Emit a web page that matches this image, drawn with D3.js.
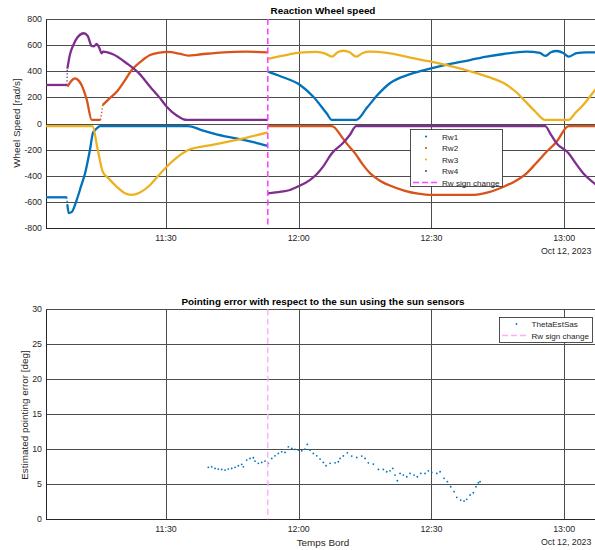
<!DOCTYPE html>
<html>
<head>
<meta charset="utf-8">
<script src="https://cdn.jsdelivr.net/npm/d3@7"></script>
<style>
  body { margin: 0; background: #fff; }
  svg { display: block; font-family: "Liberation Sans", Arial, Helvetica, sans-serif; }
</style>
</head>
<body>
<svg id="chart" width="595" height="550"></svg>
<script>
// ---------- data (time in minutes after 11:00 on Oct 12, 2023) ----------
const timeWindow = [2.87, 128.1];
const signChangeMin = [53];
const xTickLabels = ["11:30", "12:00", "12:30", "13:00"];
const speedTicks = [800, 600, 400, 200, 0, -200, -400, -600, -800];
const errorTicks = [30, 25, 20, 15, 10, 5, 0];
const wheelNames = ["Rw1", "Rw2", "Rw3", "Rw4"];
const wheelColors = ["#0072BD", "#D95319", "#EDB120", "#7E2F8E"];

// each wheel: list of continuous segments of [minute, rad/s]
const rw1 = [
  [[2.87,-565],[7.6,-565]],
  [[7.7,-620],[8.0,-685],[8.6,-680],[9.8,-586],[10.8,-480],[11.7,-381],[12.8,-203],[13.5,-70],[14.0,-50],[15.1,-20],
   [35,-20],[38,-50],[41,-80],[44,-103],[47,-122],[50,-145],[53,-172]],
  [[53,397],[56,360],[60.3,295],[63.3,205],[66.3,78],[67.5,27],[73,27],[75.4,120],[77.8,218],[80.6,308],
   [85.2,378],[89.9,422],[94,455],[98.7,486],[102.5,512],[106.3,532],[111.5,550],[114.5,540],[115.7,517],[117,545],
   [118.3,555],[119.8,540],[121,512],[122.8,538],[125,545],[128.1,543]]
];
const rw2 = [
  [[7.7,282],[8.5,322],[9.4,346],[10.2,330],[10.9,295],[12.1,180],[13.2,27],[15.2,27]],
  [[15.7,142],[17,185],[18.85,243],[20.5,320],[22.25,410],[24.5,480],[26.4,524],[28.6,542],[30.2,548],[33,535],
   [35,520],[38,530],[43,545],[48,550],[53,545]],
  [[53,-20],[67.5,-20],[69.7,-101],[71,-160],[72.7,-227],[74.5,-315],[76.1,-380],[78,-430],[80.6,-475],[84,-515],
   [87,-537],[89.9,-547],[98.7,-547],[103,-525],[106.3,-484],[109,-440],[111.5,-381],[113.5,-310],[115.7,-228],
   [118.3,-139],[121,-20],[128.1,-20]]
];
const rw3 = [
  [[2.87,-20],[13.4,-20],[14.5,-190],[15.7,-369],[17,-420],[18.85,-484],[20.5,-530],[22.25,-547],[24,-530],
   [26.4,-471],[28,-410],[30.15,-331],[32.5,-260],[35,-203],[41,-160],[47,-118],[53,-68]],
  [[53,494],[56.5,520],[60.3,542],[64,548],[66,535],[67.5,512],[68.8,545],[70.1,557],[71.5,545],[73,512],[74.5,540],
   [76.1,550],[80,540],[85.2,505],[89.9,473],[98.7,400],[103,355],[106.3,310],[109,245],[111.5,160],[113.5,90],
   [115.7,27],[121,27],[122.5,80],[124.3,142],[127,257],[128.1,300]]
];
const rw4 = [
  [[2.87,295],[7.6,295]],
  [[7.7,420],[8.3,530],[9.05,601],[10,660],[11.4,691],[12.3,670],[13.2,593],[13.7,590],[14.3,609],[14.9,580],
   [15.46,537],[15.8,550],[18,530],[21.1,461],[24,380],[26.4,282],[28.5,200],[30.15,129],[32.5,60],[34.7,27],[53,27]],
  [[53,-535],[56,-522],[58,-509],[60,-480],[62.5,-433],[64,-390],[65.5,-330],[67.5,-228],[70,-150],[71.5,-90],
   [73,-20],[115.7,-20],[117,-85],[118.3,-152],[121,-228],[122.5,-300],[124.3,-381],[127,-463],[128.1,-490]]
];
const wheels = [rw1, rw2, rw3, rw4];

// estimated pointing error from the sun sensors
const thetaMin = [39.56,40.33,41.08,41.82,42.59,43.34,44.08,44.85,45.60,46.35,47.11,47.48,48.24,48.99,49.74,50.12,
  50.87,51.64,52.38,53.13,53.90,54.64,55.39,56.16,56.90,57.65,58.42,59.16,59.91,60.68,61.42,61.94,62.55,63.30,64.07,
  64.82,65.56,66.17,67.08,68.21,68.95,69.34,70.08,70.99,71.98,73.11,74.24,74.99,75.74,76.87,78.00,79.13,79.89,80.64,
  81.25,81.77,82.29,82.90,83.65,84.42,85.16,86.07,86.81,87.58,88.55,89.30,90.07,91.20,91.95,92.85,93.60,94.36,95.11,
  95.72,96.62,97.37,97.98,98.73,99.47,100.08,100.60,100.99];
const thetaDeg = [7.42,7.50,7.27,7.18,7.13,7.03,7.18,7.27,7.42,7.65,7.85,7.50,8.46,8.70,8.79,8.32,
  7.99,8.13,8.32,7.99,8.70,9.07,9.41,9.64,9.56,10.36,10.13,9.99,9.89,9.79,10.03,10.70,9.89,9.41,9.07,
  8.60,8.13,7.65,7.99,8.07,8.22,8.70,9.05,9.50,9.03,8.84,9.03,8.70,8.07,7.89,7.13,7.13,6.79,6.93,
  7.27,6.32,5.51,6.56,6.32,6.08,6.56,6.32,6.08,6.56,6.56,6.93,6.70,6.56,6.79,5.85,5.37,4.65,3.94,
  3.14,2.75,2.61,2.85,3.47,3.79,4.65,5.22,5.37];

// ---------- helpers ----------
const base = new Date(2023, 9, 12, 11, 0, 0);
const toDate = m => new Date(base.getTime() + m * 60000);
const svg = d3.select("#chart");
const textColor = "#262626";
const gridColor = "#4d4d4d";
const snap = v => Math.round(v) + 0.5;

const x = d3.scaleTime().domain(timeWindow.map(toDate)).range([46, 600]);
const xTicks = xTickLabels.map(s => {
  const [h, m] = s.split(":").map(Number);
  return new Date(2023, 9, 12, h, m, 0);
});
const fmt = d3.timeFormat("%H:%M");

function drawFrame(y, ticks, title, ylabel, yMid, ylabelX, tickBaseline, dateBaseline, titleBaseline) {
  const g = svg.append("g");
  const [yb, yt] = y.range();
  // horizontal grid
  g.selectAll(".hg").data(ticks).join("line")
    .attr("x1", 46).attr("x2", 600)
    .attr("y1", d => snap(y(d))).attr("y2", d => snap(y(d)))
    .attr("stroke", gridColor).attr("stroke-width", 1);
  // vertical grid
  g.selectAll(".vg").data(xTicks).join("line")
    .attr("x1", d => snap(x(d))).attr("x2", d => snap(x(d)))
    .attr("y1", yt).attr("y2", yb)
    .attr("stroke", gridColor).attr("stroke-width", 1);
  // axis lines
  g.append("line").attr("x1", 46.5).attr("x2", 46.5).attr("y1", snap(yt)).attr("y2", snap(yb))
    .attr("stroke", textColor).attr("stroke-width", 1);
  g.append("line").attr("x1", 46).attr("x2", 600).attr("y1", snap(yb)).attr("y2", snap(yb))
    .attr("stroke", textColor).attr("stroke-width", 1);
  // y tick labels
  g.selectAll(".yt").data(ticks).join("text")
    .attr("x", 42).attr("y", d => y(d) + 3)
    .attr("text-anchor", "end").attr("font-size", 8.8).attr("fill", textColor)
    .text(d => d);
  // x tick labels
  g.selectAll(".xt").data(xTicks).join("text")
    .attr("x", d => x(d)).attr("y", tickBaseline)
    .attr("text-anchor", "middle").attr("font-size", 8.8).attr("fill", textColor)
    .text(d => fmt(d));
  g.append("text").attr("x", x(xTicks[3]) + 2).attr("y", dateBaseline)
    .attr("text-anchor", "middle").attr("font-size", 8.8).attr("fill", textColor)
    .text("Oct 12, 2023");
  // title
  g.append("text").attr("x", 323).attr("y", titleBaseline)
    .attr("text-anchor", "middle").attr("font-size", 9.9).attr("font-weight", "bold").attr("fill", "#000")
    .text(title);
  // y label
  g.append("text").attr("transform", `translate(${ylabelX},${yMid}) rotate(-90)`)
    .attr("text-anchor", "middle").attr("font-size", 9.9).attr("fill", textColor)
    .text(ylabel);
  return g;
}

// ---------- top: reaction wheel speed ----------
const yS = d3.scaleLinear().domain([-800, 800]).range([228, 19]);
drawFrame(yS, speedTicks, "Reaction Wheel speed", "Wheel Speed [rad/s]", 123, 19.5, 241, 254, 14);

const line = d3.line().x(d => x(toDate(d[0]))).y(d => yS(d[1])).curve(d3.curveMonotoneX);
const straight = d3.line().x(d => x(toDate(d[0]))).y(d => yS(d[1]));
const gW = svg.append("g");
wheels.forEach((segs, i) => {
  segs.forEach((seg, k) => {
    gW.append("path").attr("d", line(seg)).attr("fill", "none")
      .attr("stroke", wheelColors[i]).attr("stroke-width", 2.3).attr("stroke-linejoin", "round");
    const next = segs[k + 1];
    // a jump recorded over time shows as sparse samples
    if (next && next[0][0] > seg[seg.length - 1][0]) {
      gW.append("path").attr("d", straight([seg[seg.length - 1], next[0]]))
        .attr("fill", "none").attr("stroke", wheelColors[i]).attr("stroke-width", 1.4)
        .attr("stroke-dasharray", "1.3,2.2");
    }
  });
});

// sign change marker
svg.append("g").selectAll("line").data(signChangeMin).join("line")
  .attr("x1", d => x(toDate(d))).attr("x2", d => x(toDate(d)))
  .attr("y1", 19).attr("y2", 228)
  .attr("stroke", "#ff44ff").attr("stroke-width", 1.6).attr("stroke-dasharray", "6,3.5");

// legend (top)
{
  const lg = svg.append("g");
  lg.append("rect").attr("x", 410.5).attr("y", 129.5).attr("width", 92).attr("height", 57)
    .attr("fill", "#fff").attr("stroke", textColor).attr("stroke-width", 0.8);
  const rows = [136.5, 148, 159.5, 171, 182.5];
  wheelNames.forEach((n, i) => {
    lg.append("circle").attr("cx", 426).attr("cy", rows[i]).attr("r", 1.1).attr("fill", wheelColors[i]);
    lg.append("text").attr("x", 442).attr("y", rows[i] + 3).attr("font-size", 8.1).attr("fill", textColor).text(n);
  });
  lg.append("line").attr("x1", 413).attr("x2", 440).attr("y1", rows[4]).attr("y2", rows[4])
    .attr("stroke", "#ff44ff").attr("stroke-width", 1.3).attr("stroke-dasharray", "6,3");
  lg.append("text").attr("x", 442).attr("y", rows[4] + 3).attr("font-size", 8.1).attr("fill", textColor).text("Rw sign change");
}

// ---------- bottom: pointing error ----------
const yE = d3.scaleLinear().domain([0, 30]).range([519.3, 309.3]);
drawFrame(yE, errorTicks, "Pointing error with respect to the sun using the sun sensors",
  "Estimated pointing error [deg]", 415, 28, 532, 545, 305);

svg.append("text").attr("x", 323).attr("y", 545.5).attr("text-anchor", "middle")
  .attr("font-size", 9.9).attr("fill", textColor).text("Temps Bord");

svg.append("g").selectAll("circle").data(thetaMin.map((m, i) => [m, thetaDeg[i]])).join("circle")
  .attr("cx", d => x(toDate(d[0]))).attr("cy", d => yE(d[1])).attr("r", 0.9).attr("fill", wheelColors[0]);

svg.append("g").selectAll("line").data(signChangeMin).join("line")
  .attr("x1", d => x(toDate(d))).attr("x2", d => x(toDate(d)))
  .attr("y1", 309.3).attr("y2", 519.3)
  .attr("stroke", "#ffaaff").attr("stroke-width", 1.4).attr("stroke-dasharray", "6,3.5");

{
  const lg = svg.append("g");
  lg.append("rect").attr("x", 499.5).attr("y", 317.5).attr("width", 93).attr("height", 25)
    .attr("fill", "#fff").attr("stroke", textColor).attr("stroke-width", 0.8);
  lg.append("circle").attr("cx", 516.5).attr("cy", 324).attr("r", 0.9).attr("fill", wheelColors[0]);
  lg.append("text").attr("x", 531.5).attr("y", 327).attr("font-size", 8.1).attr("fill", textColor).text("ThetaEstSas");
  lg.append("line").attr("x1", 502).attr("x2", 529).attr("y1", 335.5).attr("y2", 335.5)
    .attr("stroke", "#ffaaff").attr("stroke-width", 1.3).attr("stroke-dasharray", "6,3");
  lg.append("text").attr("x", 531.5).attr("y", 338.5).attr("font-size", 8.1).attr("fill", textColor).text("Rw sign change");
}
</script>
</body>
</html>
